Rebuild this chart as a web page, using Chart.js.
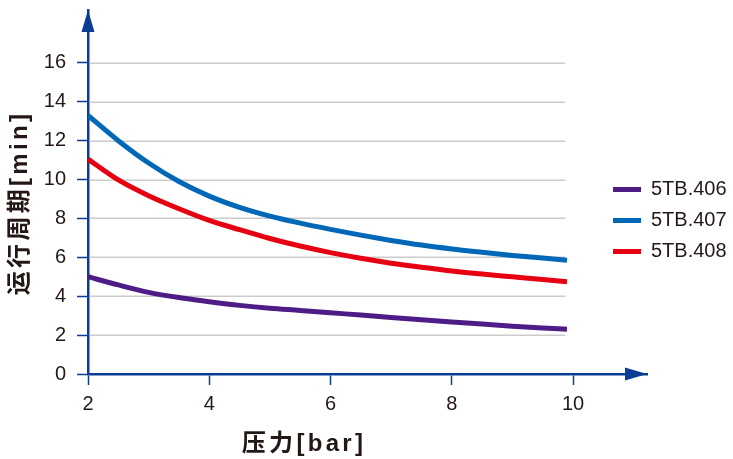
<!DOCTYPE html>
<html>
<head>
<meta charset="utf-8">
<script src="https://cdn.jsdelivr.net/npm/chart.js@4"></script>
<style>
  body { margin: 0; background: #fff; }
  #wrap { width: 733px; height: 459px; }
</style>
</head>
<body>
<div id="wrap"><canvas id="line-chartcanvas" width="733" height="459"></canvas></div>
<script>
// pressure [bar] along the x axis
var pressure = [2, 2.5, 3, 3.5, 4, 4.5, 5, 5.5, 6, 6.5, 7, 7.5, 8, 8.5, 9, 9.5, 9.9];
// running period [min] per model
var tb406 = [5.0, 4.58, 4.2, 3.93, 3.72, 3.53, 3.38, 3.27, 3.15, 3.03, 2.91, 2.79, 2.68, 2.57, 2.46, 2.37, 2.3];
var tb407 = [13.3, 12.0, 10.85, 9.9, 9.15, 8.57, 8.12, 7.76, 7.44, 7.14, 6.87, 6.63, 6.43, 6.26, 6.1, 5.96, 5.85];
var tb408 = [11.05, 9.98, 9.17, 8.5, 7.9, 7.42, 6.97, 6.58, 6.24, 5.95, 5.7, 5.49, 5.3, 5.14, 5.0, 4.86, 4.75];
var seriesNames = ["5TB.406", "5TB.407", "5TB.408"];
var xTicks = [2, 4, 6, 8, 10];
var yTicks = [0, 2, 4, 6, 8, 10, 12, 14, 16];
var xTitle = "压力[bar]";
var yTitle = "运行周期[min]";

var axisColor = "#0b3c94";
var textColor = "#231815";
var tickFont = { family: "'Liberation Sans', Arial, sans-serif", size: 20 };
var titleFont = "bold 24px 'Liberation Sans', 'Noto Sans CJK SC', sans-serif";
var gridEndX = 9.87;

function pts(ys) {
    return pressure.map(function(p, i) { return { x: p, y: ys[i] }; });
}

var axisDecor = {
    id: "axisDecor",
    afterLayout: function(chart) {
        // put legend to the right, over the free space
        var lg = chart.legend;
        var pad = 11;
        lg.left = 613 - pad;
        lg.top = 179.5 - pad;
        lg.right = lg.left + lg.width;
        lg.bottom = lg.top + lg.height;
    },
    beforeDatasetsDraw: function(chart) {
        var ctx = chart.ctx, xs = chart.scales.x, ys = chart.scales.y, a = chart.chartArea;
        var xEnd = xs.getPixelForValue(gridEndX);
        ctx.save();
        ctx.strokeStyle = "#cbcbcb";
        ctx.lineWidth = 1.5;
        yTicks.forEach(function(v) {
            if (v === 0) return;
            var y = Math.round(ys.getPixelForValue(v)) + 0.25;
            ctx.beginPath();
            ctx.moveTo(a.left + 1.5, y);
            ctx.lineTo(xEnd, y);
            ctx.stroke();
        });
        ctx.restore();
    },
    afterDraw: function(chart) {
        var ctx = chart.ctx, a = chart.chartArea;
        ctx.save();
        ctx.fillStyle = axisColor;
        // y arrow
        ctx.beginPath();
        ctx.moveTo(a.left, a.top);
        ctx.lineTo(a.left - 6.5, a.top + 22);
        ctx.lineTo(a.left + 6.5, a.top + 22);
        ctx.closePath();
        ctx.fill();
        // x arrow
        ctx.beginPath();
        ctx.moveTo(a.right, a.bottom);
        ctx.lineTo(a.right - 22, a.bottom - 6.5);
        ctx.lineTo(a.right - 22, a.bottom + 6.5);
        ctx.closePath();
        ctx.fill();

        // axis titles
        ctx.fillStyle = textColor;
        ctx.font = titleFont;
        ctx.letterSpacing = "3.3px";
        ctx.textAlign = "center";
        ctx.textBaseline = "middle";
        ctx.fillText(xTitle, 304, 444);
        ctx.translate(20, 203);
        ctx.rotate(-Math.PI / 2);
        ctx.fillText(yTitle, 0, 0);
        ctx.restore();
    }
};

var ctx = document.getElementById("line-chartcanvas");

var data = {
    datasets: [
        { label: seriesNames[0], data: pts(tb406), borderColor: "#4e1c86", backgroundColor: "#4e1c86" },
        { label: seriesNames[1], data: pts(tb407), borderColor: "#0068b7", backgroundColor: "#0068b7" },
        { label: seriesNames[2], data: pts(tb408), borderColor: "#e60012", backgroundColor: "#e60012" }
    ].map(function(d) {
        d.borderWidth = 5;
        d.pointRadius = 0;
        d.fill = false;
        d.cubicInterpolationMode = "monotone";
        return d;
    })
};

var options = {
    responsive: false,
    animation: false,
    devicePixelRatio: 1,
    layout: { padding: { left: 10, top: 10, right: 86, bottom: 0 } },
    plugins: {
        tooltip: { enabled: false },
        legend: {
            display: true,
            position: "chartArea",
            align: "start",
            labels: {
                boxWidth: 28,
                boxHeight: 5,
                padding: 11,
                color: textColor,
                font: tickFont,
                generateLabels: function(chart) {
                    return Chart.defaults.plugins.legend.labels.generateLabels(chart).map(function(it) {
                        it.fillStyle = it.strokeStyle;
                        it.lineWidth = 0;
                        return it;
                    });
                }
            }
        }
    },
    scales: {
        x: {
            type: "linear",
            min: 2,
            max: 11.22,
            afterBuildTicks: function(s) { s.ticks = xTicks.map(function(v) { return { value: v }; }); },
            afterFit: function(s) { s.height = 85; s.paddingLeft = 0; s.paddingRight = 0; },
            grid: { drawOnChartArea: false, tickLength: 11, tickColor: axisColor, tickWidth: 1.5 },
            border: { color: axisColor, width: 2.5 },
            ticks: { color: textColor, font: tickFont, padding: 7, maxRotation: 0 }
        },
        y: {
            min: 0,
            max: 18.72,
            afterBuildTicks: function(s) { s.ticks = yTicks.map(function(v) { return { value: v }; }); },
            afterFit: function(s) { s.width = 78; s.paddingTop = 0; s.paddingBottom = 0; },
            grid: { drawOnChartArea: false, tickLength: 11, tickColor: axisColor, tickWidth: 1.5 },
            border: { color: axisColor, width: 2.5 },
            ticks: { color: textColor, font: tickFont, padding: 11 }
        }
    }
};

var chart = new Chart(ctx, {
    type: "line",
    data: data,
    options: options,
    plugins: [axisDecor]
});
</script>
</body>
</html>
